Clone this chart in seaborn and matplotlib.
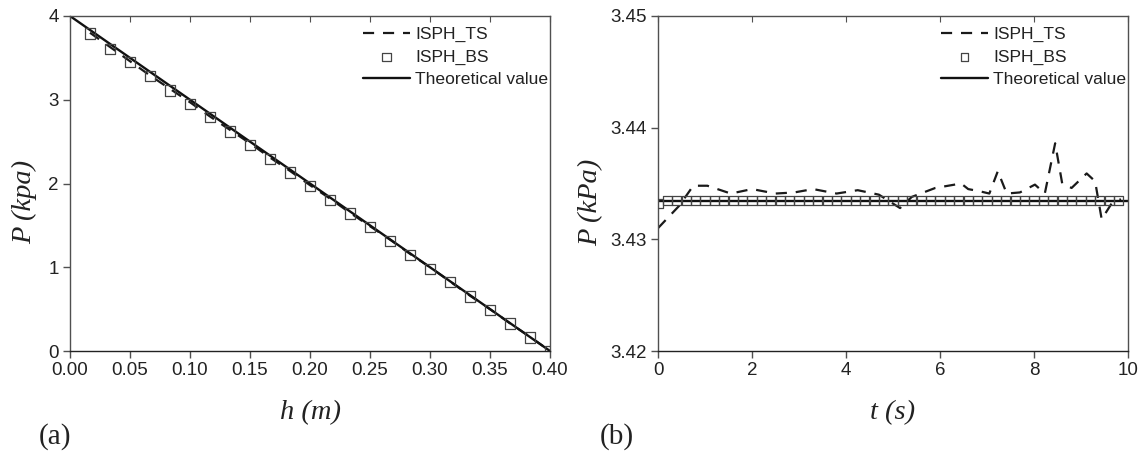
import numpy as np
import pandas as pd
import matplotlib
matplotlib.use("Agg")
import matplotlib.pyplot as plt
import seaborn as sns

# ---- Data: panel (a) ----
h_pts = [1/60, 2/60, 3/60, 4/60, 5/60, 6/60, 7/60, 8/60, 9/60, 10/60, 11/60, 12/60,
         13/60, 14/60, 15/60, 16/60, 17/60, 18/60, 19/60, 20/60, 21/60, 22/60, 23/60, 24/60]
p_bs_a = [3.79, 3.61, 3.45, 3.28, 3.11, 2.95, 2.79, 2.62, 2.46, 2.29, 2.13, 1.97,
          1.80, 1.64, 1.48, 1.31, 1.15, 0.98, 0.82, 0.65, 0.49, 0.33, 0.16, 0.00]
p_ts_a = [3.80, 3.63, 3.46, 3.29, 3.13, 2.97, 2.80, 2.64, 2.48, 2.31, 2.15, 1.98,
          1.82, 1.65, 1.49, 1.33, 1.16, 1.00, 0.83, 0.66, 0.50, 0.33, 0.17, 0.00]
h_theory = [0.0, 0.4]
p_theory_a = [4.0, 0.0]

# ---- Data: panel (b) ----
t_ts = [0.0, 0.45, 0.75, 1.05, 1.55, 2.0, 2.5, 2.9, 3.3, 3.8, 4.25, 4.7, 5.15,
        5.4, 5.9, 6.45, 6.6, 6.85, 7.05, 7.23, 7.42, 7.7, 8.02, 8.23, 8.45,
        8.6, 8.8, 9.12, 9.3, 9.44, 9.65, 9.85]
p_ts_b = [3.4310, 3.4330, 3.4348, 3.4348, 3.4341, 3.4345, 3.4341, 3.4342, 3.4345,
          3.4341, 3.4344, 3.4340, 3.4328, 3.4338, 3.4346, 3.4350, 3.4345, 3.4343,
          3.4341, 3.4361, 3.4341, 3.4342, 3.4349, 3.4341, 3.4386, 3.4350, 3.4346,
          3.4359, 3.4352, 3.4318, 3.4332, 3.4336]
t_bs = [0.0, 0.2, 0.4, 0.6, 0.8, 1.0, 1.2, 1.4, 1.6, 1.8, 2.0, 2.2, 2.4, 2.6, 2.8,
        3.0, 3.2, 3.4, 3.6, 3.8, 4.0, 4.2, 4.4, 4.6, 4.8, 5.0, 5.2, 5.4, 5.6, 5.8,
        6.0, 6.2, 6.4, 6.6, 6.8, 7.0, 7.2, 7.4, 7.6, 7.8, 8.0, 8.2, 8.4, 8.6, 8.8,
        9.0, 9.2, 9.4, 9.6, 9.8]
p_bs_b = [3.4332] + [3.4335] * 49
t_theory = [0.0, 10.0]
p_theory_b = [3.4334, 3.4334]

sns.set_style("ticks")
plt.rcParams['font.family'] = ['Liberation Sans', 'DejaVu Sans']

fig = plt.figure(figsize=(11.48, 4.54), dpi=100)
ax1 = fig.add_axes([70/1148, 103/454, 480/1148, 335/454])
ax2 = fig.add_axes([658/1148, 103/454, 470/1148, 335/454])

frame_col = "#505050"
dash = (5, 4)

def draw(ax, xt, yt, xb, yb, xth, yth, ms, width_px):
    sns.lineplot(x=xt, y=yt, ax=ax, color="#1a1a1a", lw=1.6, estimator=None, sort=False,
                 label="ISPH_TS", dashes=False, linestyle=(0, dash))
    sns.scatterplot(x=xb, y=yb, ax=ax, marker="s", s=ms, facecolor="none",
                    edgecolor="#444444", linewidth=0.9, label="ISPH_BS", zorder=3)
    sns.lineplot(x=xth, y=yth, ax=ax, color="#111111", lw=1.7, estimator=None, sort=False,
                 label="Theoretical value")
    for s in ax.spines.values():
        s.set_color(frame_col)
        s.set_linewidth(1.0)
    ax.spines["bottom"].set_color("#222222")
    ax.tick_params(axis="both", which="major", direction="out", length=5, width=1,
                   color=frame_col, labelsize=13.5, labelcolor="#222222", pad=3)
    leg = ax.legend(loc="upper right", bbox_to_anchor=(1 + 9/width_px, 1.0),
                    frameon=False, fontsize=12.6, handlelength=2.7,
                    handletextpad=0.3, labelspacing=0.42, borderaxespad=0.0,
                    borderpad=0.6, markerscale=0.8)
    for t in leg.get_texts():
        t.set_color("#222222")

draw(ax1, h_pts, p_ts_a, h_pts, p_bs_a, h_theory, p_theory_a, 55, 480)
ax1.set_xlim(0, 0.4)
ax1.set_ylim(0, 4)
ax1.set_xticks(np.arange(0, 0.401, 0.05))
ax1.set_xticklabels([f"{v:.2f}" for v in np.arange(0, 0.401, 0.05)])
ax1.set_yticks([0, 1, 2, 3, 4])

draw(ax2, t_ts, p_ts_b, t_bs, p_bs_b, t_theory, p_theory_b, 45, 470)
ax2.set_xlim(0, 10)
ax2.set_ylim(3.42, 3.45)
ax2.set_xticks([0, 2, 4, 6, 8, 10])
ax2.set_yticks([3.42, 3.43, 3.44, 3.45])
ax2.set_yticklabels(["3.42", "3.43", "3.44", "3.45"])

# inward top ticks
for ax in (ax1, ax2):
    sec = ax.secondary_xaxis("top")
    sec.set_xticks(ax.get_xticks())
    sec.tick_params(direction="in", length=4, color=frame_col, labeltop=False)
    sec.spines["top"].set_visible(False)
    ax.tick_params(axis="x", top=False)

serif = ['Liberation Serif', 'DejaVu Serif']
ax1.set_xlabel("h (m)", family=serif, style="italic", fontsize=20.5, color="#222222")
ax1.set_ylabel("P (kpa)", family=serif, style="italic", fontsize=20.5, color="#222222")
ax2.set_xlabel("t (s)", family=serif, style="italic", fontsize=20.5, color="#222222")
ax2.set_ylabel("P (kPa)", family=serif, style="italic", fontsize=20.5, color="#222222")
ax1.xaxis.set_label_coords(0.5, -0.147)
ax2.xaxis.set_label_coords(0.5, -0.147)
ax1.yaxis.set_label_coords(-0.069, 0.445)
ax2.yaxis.set_label_coords(-0.117, 0.445)

fig.text(55/1148, 1 - 437/454, "(a)", family=serif, fontsize=21, ha="center", va="center", color="#222222")
fig.text(617/1148, 1 - 437/454, "(b)", family=serif, fontsize=21, ha="center", va="center", color="#222222")

fig.savefig("out.png", dpi=100)
